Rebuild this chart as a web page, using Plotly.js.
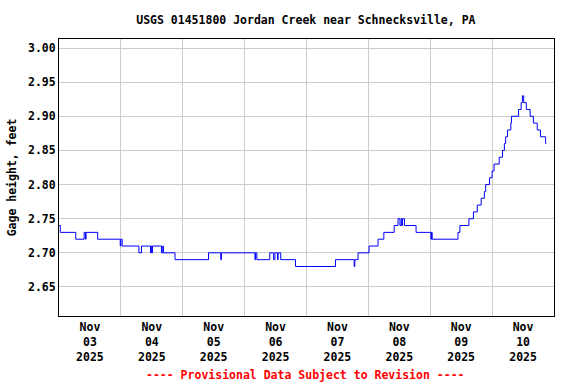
<!DOCTYPE html>
<html>
<head>
<meta charset="utf-8">
<script src="https://cdn.plot.ly/plotly-3.0.1.min.js"></script>
<style>html,body{margin:0;padding:0;background:#fff;}#chart{width:576px;height:384px;}</style>
</head>
<body>
<div id="chart"></div>
<script>
// Change points of the gage height record (15-minute data, steps of 0.01 ft)
const times = [
"2025-11-03 00:00","2025-11-03 00:30","2025-11-03 06:30","2025-11-03 09:45","2025-11-03 10:15","2025-11-03 10:30",
"2025-11-03 15:00","2025-11-03 23:45","2025-11-04 00:00","2025-11-04 00:30","2025-11-04 07:00","2025-11-04 08:00",
"2025-11-04 11:30","2025-11-04 11:45","2025-11-04 12:00","2025-11-04 12:15","2025-11-04 15:45","2025-11-04 16:15",
"2025-11-04 16:30","2025-11-04 21:00","2025-11-05 10:00","2025-11-05 14:45","2025-11-05 15:00","2025-11-06 04:00",
"2025-11-06 04:15","2025-11-06 04:45","2025-11-06 09:45","2025-11-06 11:15","2025-11-06 11:45","2025-11-06 12:45",
"2025-11-06 13:00","2025-11-06 14:00","2025-11-06 19:45","2025-11-07 11:15","2025-11-07 18:30","2025-11-07 18:45",
"2025-11-07 20:00","2025-11-08 00:15","2025-11-08 03:45","2025-11-08 06:00","2025-11-08 10:00","2025-11-08 11:30",
"2025-11-08 12:15","2025-11-08 12:45","2025-11-08 13:00","2025-11-08 13:15","2025-11-08 14:00","2025-11-08 18:30",
"2025-11-09 00:15","2025-11-09 00:30","2025-11-09 00:45","2025-11-09 10:45","2025-11-09 11:30","2025-11-09 15:00",
"2025-11-09 16:45","2025-11-09 18:15","2025-11-09 19:45","2025-11-09 21:00","2025-11-09 21:30","2025-11-09 23:00",
"2025-11-10 00:00","2025-11-10 00:45","2025-11-10 02:45","2025-11-10 04:00","2025-11-10 04:45","2025-11-10 05:15",
"2025-11-10 06:00","2025-11-10 07:15","2025-11-10 07:30","2025-11-10 10:15","2025-11-10 11:15","2025-11-10 11:45",
"2025-11-10 12:15","2025-11-10 13:15","2025-11-10 14:45","2025-11-10 16:00","2025-11-10 17:30","2025-11-10 18:45",
"2025-11-10 20:45","2025-11-10 21:00"
];
const gageHeight = [
2.74,2.73,2.72,2.73,2.72,2.73,
2.72,2.71,2.72,2.71,2.70,2.71,
2.70,2.71,2.70,2.71,2.70,2.71,
2.70,2.69,2.70,2.69,2.70,2.69,
2.70,2.69,2.70,2.69,2.70,2.69,
2.70,2.69,2.68,2.69,2.68,2.69,
2.70,2.71,2.72,2.73,2.74,2.75,
2.74,2.75,2.74,2.75,2.74,2.73,
2.72,2.73,2.72,2.73,2.74,2.75,
2.76,2.77,2.78,2.79,2.80,2.81,
2.82,2.83,2.84,2.85,2.86,2.87,
2.88,2.89,2.90,2.91,2.92,2.93,
2.92,2.91,2.90,2.89,2.88,2.87,
2.86,2.86
];
const dayLabelDates = ["2025-11-03 12:00","2025-11-04 12:00","2025-11-05 12:00","2025-11-06 12:00",
                       "2025-11-07 12:00","2025-11-08 12:00","2025-11-09 12:00","2025-11-10 12:00"];
const dayLabels = ["Nov<br>03<br>2025","Nov<br>04<br>2025","Nov<br>05<br>2025","Nov<br>06<br>2025",
                   "Nov<br>07<br>2025","Nov<br>08<br>2025","Nov<br>09<br>2025","Nov<br>10<br>2025"];
const yTicks = [2.65,2.70,2.75,2.80,2.85,2.90,2.95,3.00];

const FONT = "DejaVu Sans Mono, Liberation Mono, monospace";

const trace = {
  x: times, y: gageHeight, type: "scatter", mode: "lines",
  line: {color: "#0000ff", width: 1, shape: "hv"},
  hoverinfo: "skip"
};

const layout = {
  width: 576, height: 384,
  margin: {l: 59, r: 22, t: 39, b: 68},
  paper_bgcolor: "#ffffff", plot_bgcolor: "#ffffff",
  showlegend: false,
  font: {family: FONT, size: 11.5, color: "#000", weight: "bold"},
  title: {text: "USGS 01451800 Jordan Creek near Schnecksville, PA",
          x: 0.531, xanchor: "center", y: 0.948, yanchor: "middle", yref: "container",
          font: {family: FONT, size: 11.5, color: "#000", weight: "bold"}},
  xaxis: {
    type: "date",
    range: ["2025-11-03 00:00", "2025-11-11 00:00"],
    tickmode: "array", tickvals: dayLabelDates, ticktext: dayLabels,
    showgrid: false, ticks: "", ticklen: 0,
    showline: true, linecolor: "#000", linewidth: 1, mirror: true,
    zeroline: false,
    tickfont: {family: FONT, size: 11.5, color: "#000", weight: "bold"},
    minor: {tickmode: "linear", tick0: "2025-11-03 00:00", dtick: 86400000,
            showgrid: true, gridcolor: "#cccccc", gridwidth: 1, ticks: ""}
  },
  yaxis: {
    range: [2.6075, 3.0132],
    tickmode: "array", tickvals: yTicks, tickformat: ".2f",
    showgrid: true, gridcolor: "#cccccc", gridwidth: 1,
    showline: true, linecolor: "#000", linewidth: 1, mirror: true,
    zeroline: false, ticks: "",
    tickfont: {family: FONT, size: 11.5, color: "#000", weight: "bold"},
    title: {text: "Gage height, feet", standoff: 8,
            font: {family: FONT, size: 11.5, color: "#000", weight: "bold"}}
  },
  annotations: [{
    text: "---- Provisional Data Subject to Revision ----",
    xref: "paper", yref: "paper", x: 0.498, y: -0.213, xanchor: "center", yanchor: "middle",
    showarrow: false,
    font: {family: FONT, size: 11.5, color: "#ff0000", weight: "bold"}
  }]
};

Plotly.newPlot("chart", [trace], layout, {staticPlot: true, displayModeBar: false});
</script>
</body>
</html>
